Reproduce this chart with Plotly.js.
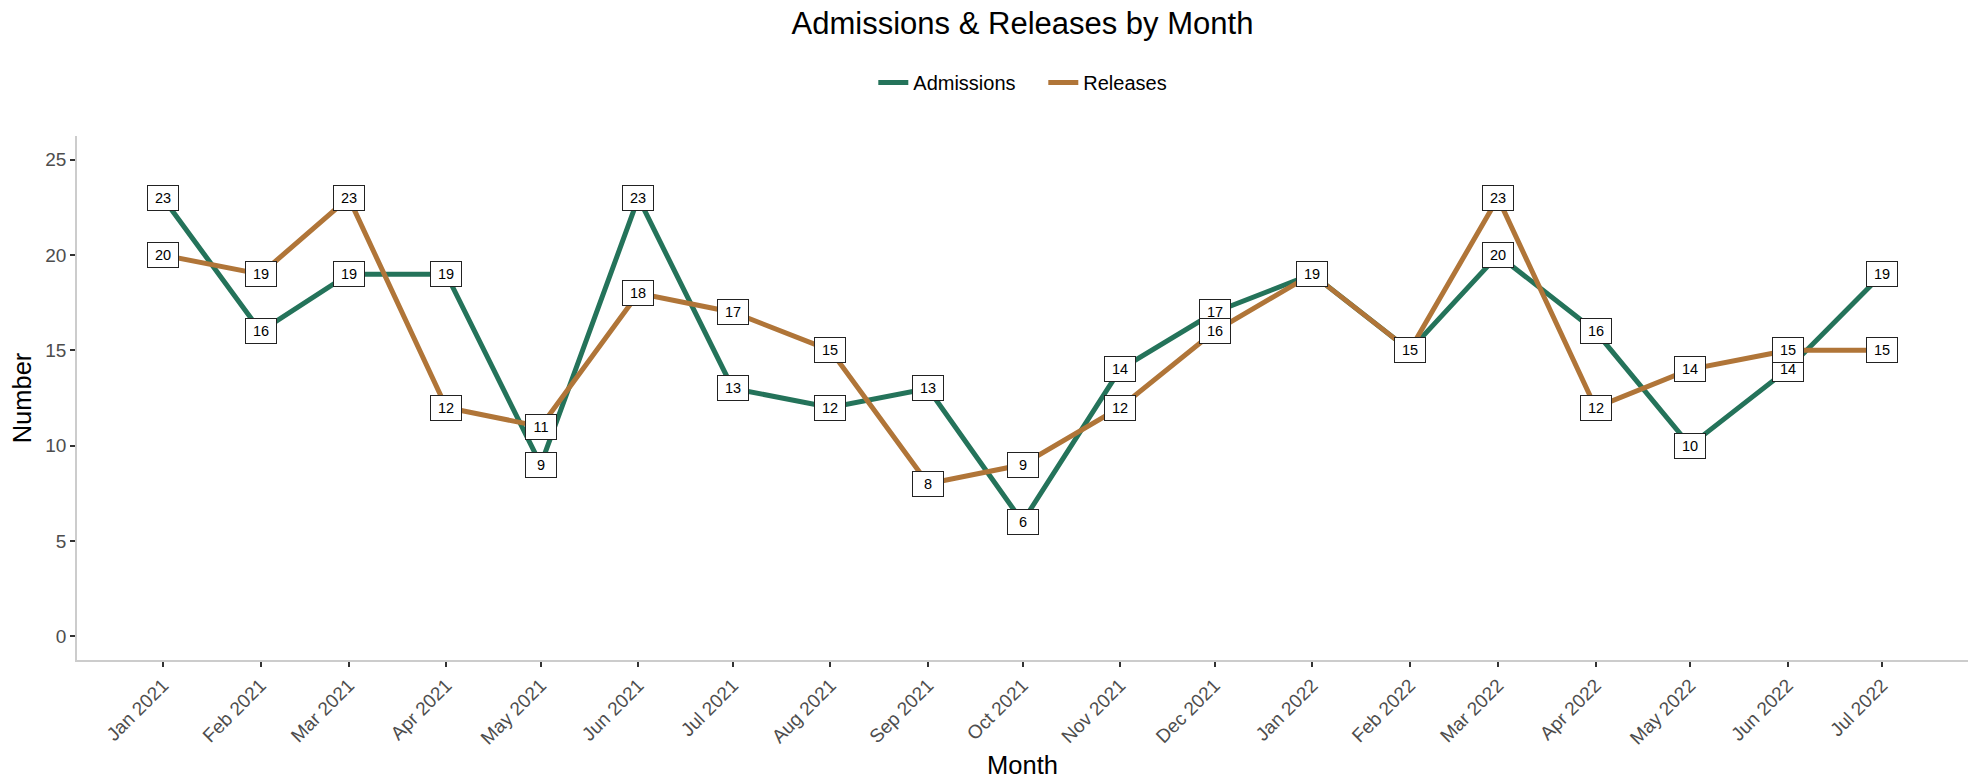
<!DOCTYPE html>
<html>
<head>
<meta charset="utf-8">
<script src="https://cdn.plot.ly/plotly-3.0.1.min.js"></script>
<style>
  html, body { margin: 0; padding: 0; background: #ffffff; }
  #chart { width: 1974px; height: 779px; }
</style>
</head>
<body>
<div id="chart"></div>
<script>
// ---- Data ----
const months = ['2021-01-01','2021-02-01','2021-03-01','2021-04-01','2021-05-01','2021-06-01',
                '2021-07-01','2021-08-01','2021-09-01','2021-10-01','2021-11-01','2021-12-01',
                '2022-01-01','2022-02-01','2022-03-01','2022-04-01','2022-05-01','2022-06-01','2022-07-01'];
const monthLabels = ['Jan 2021','Feb 2021','Mar 2021','Apr 2021','May 2021','Jun 2021',
                     'Jul 2021','Aug 2021','Sep 2021','Oct 2021','Nov 2021','Dec 2021',
                     'Jan 2022','Feb 2022','Mar 2022','Apr 2022','May 2022','Jun 2022','Jul 2022'];
const admissions = [23,16,19,19,9,23,13,12,13,6,14,17,19,15,20,16,10,14,19];
const releases   = [20,19,23,12,11,18,17,15,8,9,12,16,19,15,23,12,14,15,15];
const yTicks = [0,5,10,15,20,25];

const seriesNames = ['Admissions','Releases'];
const seriesColors = ['#24735a','#b07538'];
const FONT = '"Liberation Sans", Arial, Helvetica, sans-serif';

const traces = [
  { x: months, y: admissions, name: seriesNames[0], type: 'scatter', mode: 'lines',
    line: { color: seriesColors[0], width: 5 } },
  { x: months, y: releases, name: seriesNames[1], type: 'scatter', mode: 'lines',
    line: { color: seriesColors[1], width: 5 } }
];

function labelAnn(x, y) {
  return {
    x: x, y: y, xref: 'x', yref: 'y', text: String(y), showarrow: false,
    font: { family: FONT, size: 14.5, color: '#000000' },
    bgcolor: '#ffffff', bordercolor: '#222222', borderwidth: 1, borderpad: 0,
    width: 30, height: 24, xanchor: 'center', yanchor: 'middle'
  };
}
const annotations = [];
months.forEach((m, i) => annotations.push(labelAnn(m, admissions[i])));
months.forEach((m, i) => annotations.push(labelAnn(m, releases[i])));

const layout = {
  width: 1974, height: 779,
  paper_bgcolor: '#ffffff', plot_bgcolor: '#ffffff',
  font: { family: FONT, color: '#000000' },
  margin: { l: 77, r: 6, t: 136, b: 119 },
  title: { text: 'Admissions &amp; Releases by Month', font: { family: FONT, size: 31, color: '#000000' },
           x: 0.5, xref: 'paper', xanchor: 'center', y: 0.97, yref: 'container', yanchor: 'middle' },
  showlegend: true,
  legend: { orientation: 'h', x: 0.511, xanchor: 'center', y: 1.102, yanchor: 'middle',
            font: { family: FONT, size: 20, color: '#000000' }, bgcolor: 'rgba(0,0,0,0)',
            itemwidth: 30, entrywidth: 125, entrywidthmode: 'pixels' },
  xaxis: {
    type: 'date',
    range: ['2020-12-04 16:48', '2022-07-28 07:12'],
    tickmode: 'array', tickvals: months, ticktext: monthLabels,
    tickangle: -45,
    tickfont: { family: FONT, size: 19, color: '#4d4d4d' },
    ticks: 'outside', ticklen: 5, tickwidth: 1.5, tickcolor: '#333333',
    showline: true, linecolor: '#cccccc', linewidth: 1.5,
    showgrid: false, zeroline: false,
    title: { text: 'Month', font: { family: FONT, size: 25.5, color: '#000000' }, standoff: 11 }
  },
  yaxis: {
    range: [-1.25, 26.25],
    tickmode: 'array', tickvals: yTicks, ticktext: yTicks.map(String),
    tickfont: { family: FONT, size: 19, color: '#4d4d4d' },
    ticks: 'outside', ticklen: 5, tickwidth: 1.5, tickcolor: '#333333',
    showline: true, linecolor: '#cccccc', linewidth: 1.5,
    showgrid: false, zeroline: false,
    title: { text: 'Number', font: { family: FONT, size: 25.5, color: '#000000' }, standoff: 6 }
  },
  annotations: annotations
};

Plotly.newPlot('chart', traces, layout, { displayModeBar: false, responsive: false });
</script>
</body>
</html>
